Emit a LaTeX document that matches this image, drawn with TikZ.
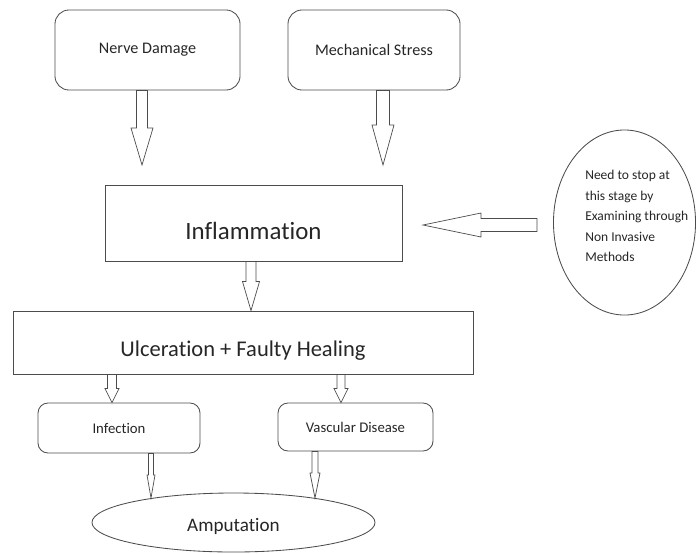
\documentclass[tikz,border=0pt]{standalone}
\usepackage{fontspec}
\setmainfont[Ligatures=NoCommon]{Carlito}
\usetikzlibrary{calc,shapes.geometric}
\tikzset{
	box/.style={draw=black!70, line width=0.6pt, text=black!85},
	rbox/.style={box, rounded corners=#1},
	hollow/.style n args={3}{draw=black!70, line width=0.5pt, to path={
		($(\tikztotarget)!#3!(\tikztostart)$) coordinate (bh)
		($(\tikztostart)!#1!90:(\tikztotarget)$)
		-- ($(bh)!#1!-90:(\tikztostart)$) -- ($(bh)!#2!-90:(\tikztostart)$)
		-- (\tikztotarget)
		-- ($(bh)!#2!90:(\tikztostart)$) -- ($(bh)!#1!90:(\tikztostart)$)
		-- ($(\tikztostart)!#1!-90:(\tikztotarget)$) -- cycle}}
}
\begin{document}
\begin{tikzpicture}[x=0.025cm, y=-0.025cm]
		\useasboundingbox (0,0) rectangle (696,553);
		%causes
		\node (nerve) at (147.5,50) [rbox=0.35cm, minimum width=4.625cm, minimum height=2cm, font=\fontsize{11.5}{14}\selectfont]{Nerve Damage};
		\node (mech) at (374,50) [rbox=0.35cm, minimum width=4.3cm, minimum height=2cm, font=\fontsize{11.5}{14}\selectfont]{Mechanical Stress};
		
		%stages
		\node (infl) at (253.5,223) [box, minimum width=7.425cm, minimum height=1.9cm, text height=24pt, font=\fontsize{17.7}{21}\selectfont]{Inflammation};
		\node (ulcer) at (243,342.5) [box, minimum width=11.5cm, minimum height=1.575cm, text height=22pt, font=\fontsize{16}{19}\selectfont]{Ulceration + Faulty Healing};
		\node (infec) at (119,428) [rbox=0.25cm, minimum width=4.05cm, minimum height=1.25cm, font=\fontsize{10.5}{13}\selectfont]{Infection};
		\node (vasc) at (355.5,427) [rbox=0.25cm, minimum width=3.875cm, minimum height=1.2cm, font=\fontsize{10.5}{13}\selectfont]{Vascular Disease};
		\node (amp) at (233.5,522.5) [box, ellipse, inner sep=0pt, minimum width=7.075cm, minimum height=1.475cm, text height=15pt, font=\fontsize{13.6}{16}\selectfont]{Amputation};
		
		%note
		\node (stop) at (624.5,222.5) [box, ellipse, inner sep=0pt, minimum width=3.55cm, minimum height=4.625cm]{};
		\node (stoptxt) at (585,216) [anchor=west, inner sep=0pt, align=left, text=black!85, font=\fontsize{9.6}{14.5}\selectfont]{Need to stop at\\this stage by\\Examining through\\Non Invasive\\Methods};
		
		%arrow ends
		\coordinate (t1) at (142,165);
		\coordinate (t2) at (383,165);
		\coordinate (x3) at (251,0);
		\coordinate (x4) at (112,0);
		\coordinate (x5) at (341,0);
		\coordinate (t6) at (151,498);
		\coordinate (t7) at (315,498);
		\coordinate (tail) at (537,225);
		\coordinate (tip) at (423,225);
		
		\draw[hollow={0.1375cm}{0.275cm}{0.925cm}] (t1 |- nerve.south) to (t1);
		\draw[hollow={0.1625cm}{0.275cm}{1cm}] (t2 |- mech.south) to (t2);
		\draw[hollow={0.125cm}{0.2125cm}{0.725cm}] (x3 |- infl.south) to (x3 |- ulcer.north);
		\draw[hollow={0.1125cm}{0.175cm}{0.35cm}] (x4 |- ulcer.south) to (x4 |- infec.north);
		\draw[hollow={0.1cm}{0.175cm}{0.35cm}] (x5 |- ulcer.south) to (x5 |- vasc.north);
		\draw[hollow={0.0625cm}{0.1cm}{0.575cm}] (t6 |- infec.south) to (t6);
		\draw[hollow={0.075cm}{0.125cm}{0.625cm}] (t7 |- vasc.south) to (t7);
		\draw[hollow={0.1625cm}{0.3cm}{1.45cm}] (tail) to (tip);
		\end{tikzpicture}
\end{document}
